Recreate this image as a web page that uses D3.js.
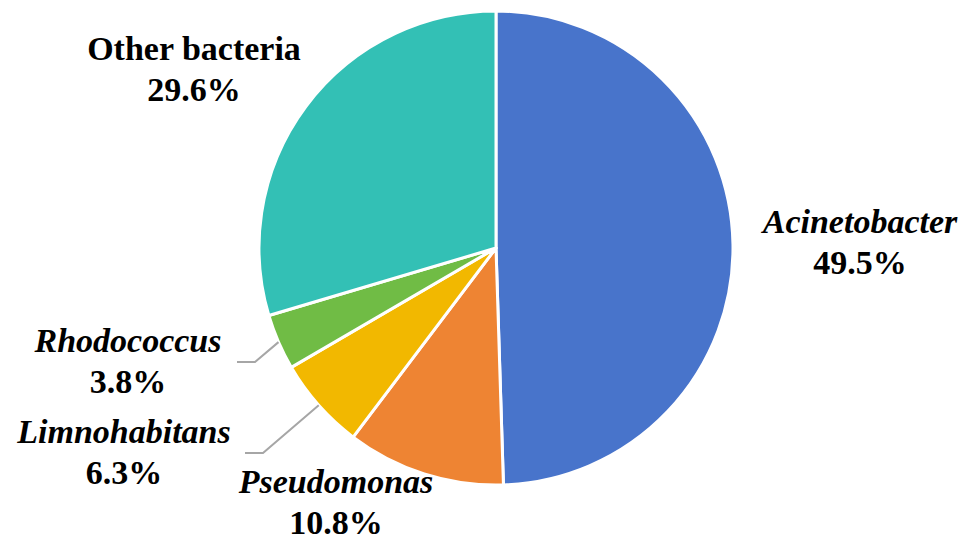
<!DOCTYPE html>
<html>
<head>
<meta charset="utf-8">
<script src="https://cdn.jsdelivr.net/npm/d3@7"></script>
<style>
  html, body { margin: 0; padding: 0; background: #ffffff; }
  svg { display: block; }
</style>
</head>
<body>
<svg id="chart" width="968" height="545"></svg>
<script>
// Genus composition
const genera = ["Acinetobacter", "Pseudomonas", "Limnohabitans", "Rhodococcus", "Other bacteria"];
const shares = [49.5, 10.8, 6.3, 3.8, 29.6];
const italicName = [true, true, true, true, false];
const sliceColors = ["#4874cb", "#ee8433", "#f2b800", "#70bc45", "#33c0b5"];

// Label placement: anchor x and baseline of the name line; optional leader elbow
const labelLayout = {
  "Acinetobacter":  { x: 860, y: 233 },
  "Pseudomonas":    { x: 336, y: 493 },
  "Limnohabitans":  { x: 124, y: 443, leader: [[245, 453], [263, 453]] },
  "Rhodococcus":    { x: 128, y: 352, leader: [[237, 362], [255, 362]] },
  "Other bacteria": { x: 194, y: 60 }
};

const svg = d3.select("#chart");
const cx = 496, cy = 248, radius = 237;
const fontSize = 34, lineGap = 41;
const fontStack = "'Liberation Serif', 'Times New Roman', Tinos, 'DejaVu Serif', serif";

const data = genera.map((g, i) => ({ name: g, value: shares[i], italic: italicName[i], color: sliceColors[i] }));

const pie = d3.pie().sort(null).value(d => d.value);
const arc = d3.arc().innerRadius(0).outerRadius(radius);
const arcs = pie(data);

const g = svg.append("g").attr("transform", `translate(${cx},${cy})`);

g.selectAll("path.slice")
  .data(arcs)
  .join("path")
  .attr("class", "slice")
  .attr("d", arc)
  .attr("fill", d => d.data.color)
  .attr("stroke", "#ffffff")
  .attr("stroke-width", 3)
  .attr("stroke-linejoin", "round");

// Leader lines from the slice edge to the label
arcs.forEach(a => {
  const lay = labelLayout[a.data.name];
  if (!lay.leader) return;
  const mid = (a.startAngle + a.endAngle) / 2;
  const ex = cx + radius * Math.sin(mid);
  const ey = cy - radius * Math.cos(mid);
  const pts = [...lay.leader, [ex, ey]];
  svg.append("path")
    .attr("d", d3.line()(pts))
    .attr("fill", "none")
    .attr("stroke", "#a6a6a6")
    .attr("stroke-width", 2);
});

// Labels: name + percentage
arcs.forEach(a => {
  const lay = labelLayout[a.data.name];
  const t = svg.append("text")
    .attr("text-anchor", "middle")
    .attr("font-family", fontStack)
    .attr("font-weight", "bold")
    .attr("fill", "#000")
    .attr("font-size", fontSize);
  t.append("tspan")
    .attr("x", lay.x).attr("y", lay.y)
    .attr("font-style", a.data.italic ? "italic" : "normal")
    .text(a.data.name);
  t.append("tspan")
    .attr("x", lay.x).attr("y", lay.y + lineGap)
    .text(d3.format(".1f")(a.data.value) + "%");
});
</script>
</body>
</html>
